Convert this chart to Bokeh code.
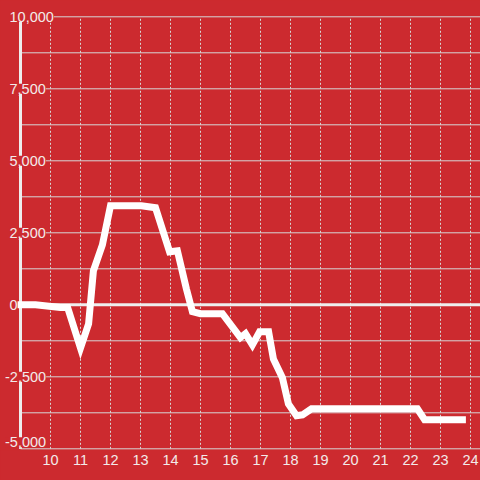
from bokeh.plotting import figure
from bokeh.models import (ColumnDataSource, LabelSet, Range1d, FixedTicker,
                          GlobalInlineStyleSheet)
from bokeh.core.properties import value
from bokeh.embed import file_html
from bokeh.resources import INLINE

# ---- data -------------------------------------------------------------
x_vals = [9.0, 9.5, 10.33, 10.57, 11.0, 11.27, 11.43, 11.73, 12.0, 13.03,
          13.5, 13.97, 14.23, 14.53, 14.73, 15.0, 15.73, 16.33, 16.5, 16.73,
          16.97, 17.27, 17.43, 17.73, 17.93, 18.2, 18.4, 18.7, 22.23, 22.47,
          23.73]
y_vals = [0, 0, -90, -90, -1500, -660, 1180, 2080, 3440, 3440,
          3370, 1840, 1875, 555, -240, -310, -310, -1140, -1000, -1390,
          -940, -940, -1880, -2530, -3440, -3850, -3820, -3610, -3610, -3990,
          -3990]

x_ticks = [10, 11, 12, 13, 14, 15, 16, 17, 18, 19, 20, 21, 22, 23, 24]
y_ticks = [-5000, -2500, 0, 2500, 5000, 7500, 10000]
y_tick_labels = ["-5,000", "-2,500", "0", "2,500", "5,000", "7,500", "10,000"]
y_minor = [-3750, -1250, 1250, 3750, 6250, 8750]

# ---- style ------------------------------------------------------------
BG = "#cc2a2f"
GRID = "#d6d6d6"
AXIS = "#eeeeee"
TXT = "#f3eaea"
FONT = "Liberation Sans"

x_lo, x_hi = 8.3333, 24.3333
y_lo, y_hi = -5059, 10566

p = figure(width=480, height=480, output_backend="svg", toolbar_location=None,
           x_range=Range1d(x_lo, x_hi), y_range=Range1d(y_lo, y_hi),
           min_border_left=0, min_border_right=0, min_border_top=0,
           min_border_bottom=30)
p.stylesheets = [GlobalInlineStyleSheet(
    css=f"html, body {{ margin: 0; padding: 0; background: {BG}; overflow: hidden; }}")]
p.background_fill_color = BG
p.border_fill_color = BG
p.outline_line_color = None
p.grid.visible = False
p.yaxis.visible = False

xa = p.xaxis[0]
xa.ticker = FixedTicker(ticks=x_ticks)
xa.axis_line_color = None
xa.major_tick_line_color = None
xa.minor_tick_line_color = None
xa.major_label_text_font = FONT
xa.major_label_text_font_size = "14.5px"
xa.major_label_text_color = TXT
xa.major_label_standoff = -2

# horizontal grid lines
all_h = sorted(y_ticks + y_minor)
p.segment(x0=[9] * len(all_h), x1=[x_hi] * len(all_h), y0=all_h, y1=all_h,
          line_color=GRID, line_width=1)
# vertical dotted grid lines
p.segment(x0=x_ticks, x1=x_ticks, y0=[min(y_ticks)] * len(x_ticks),
          y1=[max(y_ticks)] * len(x_ticks),
          line_color=GRID, line_width=1, line_dash="2 2")
# zero line
p.segment(x0=[9], x1=[x_hi], y0=[0], y1=[0], line_color=AXIS, line_width=3)
# vertical axis line
p.segment(x0=[9], x1=[9], y0=[min(y_ticks)], y1=[max(y_ticks)],
          line_color=AXIS, line_width=3)

# data line
p.line(x_vals, y_vals, line_color="#ffffff", line_width=7,
       line_join="miter", line_cap="square")

# y tick labels overlaid on the plot
lab_src = ColumnDataSource(dict(
    x=[9] * len(y_ticks), y=y_ticks, text=y_tick_labels,
    xo=[-15.5 if t.startswith("-") else -11 for t in y_tick_labels],
    yo=[6.5 if v == min(y_ticks) else 0 for v in y_ticks]))
p.add_layout(LabelSet(x="x", y="y", text="text", source=lab_src,
                      x_offset="xo", y_offset="yo",
                      text_align="left", text_baseline="middle",
                      text_font=value(FONT), text_font_size=value("14.5px"),
                      text_color=TXT, background_fill_color=BG))

open("out.html", "w").write(file_html(p, INLINE))
